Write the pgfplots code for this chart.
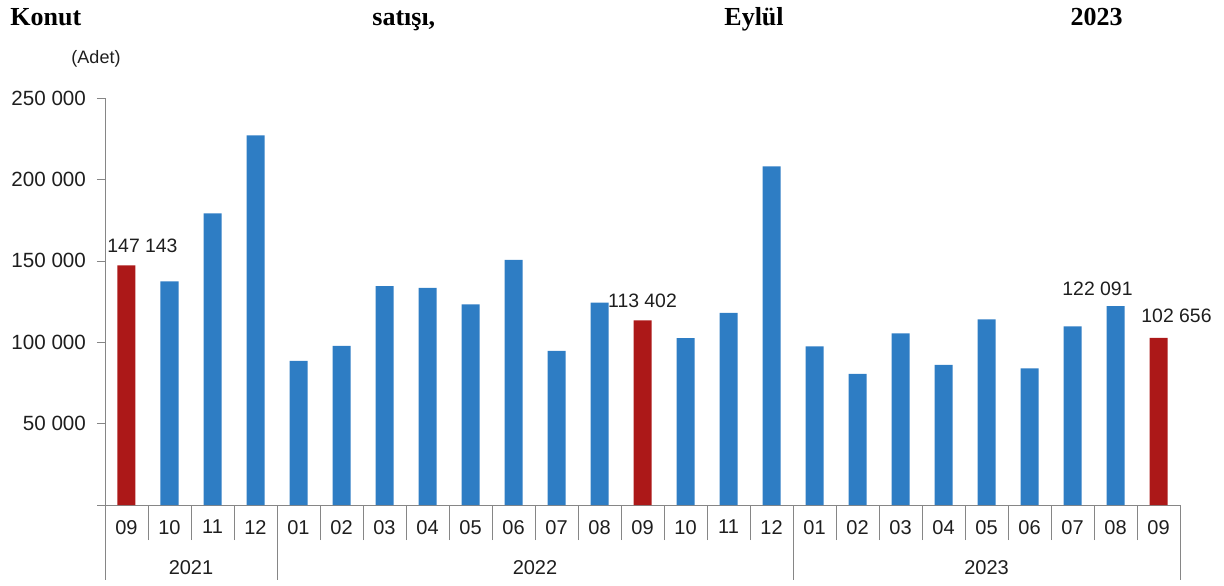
\documentclass[border=0pt]{standalone}
\usepackage{pgfplots}
\pgfplotsset{compat=1.18}
\usepackage{fontspec}
\setmainfont{Liberation Sans}
\newfontfamily\titlefont{Liberation Serif}
\definecolor{barblue}{RGB}{46,125,196}
\definecolor{barred}{RGB}{172,24,24}
\definecolor{axgray}{RGB}{134,134,134}
\definecolor{txt}{RGB}{30,30,30}

\begin{document}
\begin{tikzpicture}[x=1pt,y=1pt]
\useasboundingbox (0,0) rectangle (612,292.5);
% title, spread over the width
\begin{scope}[every node/.style={anchor=base west,inner sep=0pt,font=\titlefont\bfseries\fontsize{13}{15}\selectfont}]
\node at (5,279.5) {Konut};
\node at (186,279.5) {satışı,};
\node at (362,279.5) {Eylül};
\node[anchor=base east] at (561.5,279.5) {2023};
\end{scope}
\node[font=\fontsize{9}{11}\selectfont,text=txt] at (48,263) {(Adet)};

\begin{axis}[
  at={(52.5pt,40pt)}, anchor=south west,
  scale only axis, width=537.5pt, height=203.5pt,
  xmin=-0.5, xmax=24.5, ymin=0, ymax=250000,
  axis x line*=bottom, axis y line*=left,
  axis line style={axgray},
  ybar, clip=false,
  scaled y ticks=false,
  ytick={50000,100000,150000,200000,250000},
  yticklabels={50 000,100 000,150 000,200 000,250 000},
  ytick align=outside, xtick align=outside,
  major tick length=4pt,
  minor tick length=17.5pt,
  tick style={axgray},
  y tick label style={font=\fontsize{10.3}{12}\selectfont,text=txt,xshift=-2pt},
  xtick={0,...,24},
  xticklabels={09,10,11,12,01,02,03,04,05,06,07,08,09,10,11,12,01,02,03,04,05,06,07,08,09},
  x tick label style={font=\fontsize{10}{12}\selectfont,text=txt},
  major x tick style={draw=none},
  minor xtick={-0.5,0.5,...,24.5},
  extra x ticks={1.5,9.5,20},
  extra x tick labels={2021,2022,2023},
  extra x tick style={major x tick style={draw=none},
    x tick label style={yshift=-20pt}},
]
\addplot[fill=barblue, draw=none, bar width=9pt, bar shift=0pt] coordinates {
(1,137400) (2,179100) (3,227100)
(4,88600) (5,97800) (6,134500) (7,133400) (8,123300) (9,150500)
(10,94700) (11,124300) (13,102500) (14,118000) (15,208000)
(16,97500) (17,80500) (18,105500) (19,86100) (20,114000) (21,84000)
(22,109800) (23,122091)};
\addplot[fill=barred, draw=none, bar width=9pt, bar shift=0pt] coordinates {
(0,147143) (12,113402) (24,102656)};

\draw[axgray] (axis cs:-0.5,0) -- ++(-4pt,0pt);
\draw[axgray] (axis cs:-0.5,0) -- ++(0pt,-37.5pt);
\draw[axgray] (axis cs:3.5,0) -- ++(0pt,-37.5pt);
\draw[axgray] (axis cs:15.5,0) -- ++(0pt,-37.5pt);
\draw[axgray] (axis cs:24.5,0) -- ++(0pt,-37.5pt);

\begin{scope}[every node/.style={anchor=south,font=\fontsize{9.7}{11}\selectfont,text=txt,inner sep=0pt}]
\node[xshift=8pt,yshift=6pt] at (axis cs:0,147143) {147 143};
\node[yshift=6pt] at (axis cs:12,113402) {113 402};
\node[xshift=-9pt,yshift=5pt] at (axis cs:23,122091) {122 091};
\node[xshift=9pt,yshift=7.5pt] at (axis cs:24,102656) {102 656};
\end{scope}
\end{axis}
\end{tikzpicture}
\end{document}
